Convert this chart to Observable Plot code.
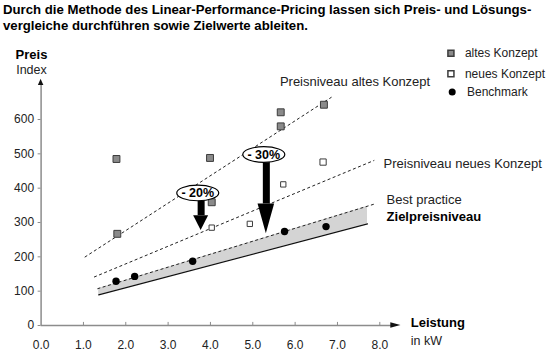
<!DOCTYPE html>
<html><head><meta charset="utf-8">
<script src="https://cdn.jsdelivr.net/npm/d3@7"></script>
<script src="https://cdn.jsdelivr.net/npm/@observablehq/plot@0.6"></script>
<style>
body{margin:0;background:#fff;font-family:Arial,"Liberation Sans",sans-serif;}
#title{font-weight:bold;font-size:13.2px;line-height:15.5px;padding:2px 0 0 3px;height:36px;box-sizing:border-box;color:#000;white-space:nowrap;}
#chart svg{display:block;}
</style></head><body>
<div id="title">Durch die Methode des Linear-Performance-Pricing lassen sich Preis- und Lösungs-<br>vergleiche durchführen sowie Zielwerte ableiten.</div>
<div id="chart"></div>
<script>
// ---- data ----
const xTicks = [0, 1, 2, 3, 4, 5, 6, 7, 8];
const yTicks = [0, 100, 200, 300, 400, 500, 600];
const altX = [1.78, 1.80, 3.99, 4.03, 5.66, 5.66, 6.68];
const altY = [485, 267, 488, 359, 621, 580, 643];
const neuX = [4.03, 4.93, 5.72, 6.66];
const neuY = [285, 296, 411, 476];
const neuBig = [false, false, false, true];
const benchX = [1.77, 2.21, 3.58, 5.75, 6.73];
const benchY = [129, 143, 187, 274, 288];
// price level lines (dashed)
const trendX0 = [1.03, 1.25, 1.33];
const trendY0 = [199, 141, 107];
const trendX1 = [6.86, 7.87, 7.88];
const trendY1 = [665, 481, 354];
// target price level (solid) and best practice band
const zielX = [1.36, 7.71];
const zielY = [89, 296];
const bandTop = [108, 347];
// reduction arrows
const cutLabels = ["- 20%", "- 30%"];
const cutX = [3.78, 5.32];
const cutFrom = [364, 476];
const cutHead = [320, 354];
const cutTo = [277, 267];
const cutLabelX = [3.70, 5.26];
const cutLabelY = [386, 498];
// annotation labels
const annText = ["Preisniveau altes Konzept", "Preisniveau neues Konzept", "Best practice"];
const annX = [5.64, 8.09, 8.16];
const annY = [709, 471, 366];
const boldText = ["Zielpreisniveau"];
const boldX = [8.16];
const boldY = [317];
// legend
const legText = ["altes Konzept", "neues Konzept", "Benchmark"];
const legY = [793, 733, 680];

// ---- build tables ----
const alt = altX.map((x, i) => ({x, y: altY[i]}));
const neu = neuX.map((x, i) => ({x, y: neuY[i], big: neuBig[i]}));
const bench = benchX.map((x, i) => ({x, y: benchY[i]}));
const trends = trendX0.map((x, i) => ({x1: x, y1: trendY0[i], x2: trendX1[i], y2: trendY1[i]}));
const band = zielX.map((x, i) => ({x, lo: zielY[i], hi: bandTop[i]}));
const ziel = zielX.map((x, i) => ({x, y: zielY[i]}));
const cuts = cutX.map((x, i) => ({x, from: cutFrom[i], head: cutHead[i], to: cutTo[i], label: cutLabels[i], lx: cutLabelX[i], ly: cutLabelY[i]}));
const headW = [0.177, 0.196];
const heads = cuts.flatMap((c, i) => [
  {k: i, y: c.head, x1: c.x - headW[i], x2: c.x + headW[i]},
  {k: i, y: c.to, x1: c.x, x2: c.x}
]);
const ann = annText.map((t, i) => ({t, x: annX[i], y: annY[i]}));
const annB = boldText.map((t, i) => ({t, x: boldX[i], y: boldY[i]}));
const leg = legText.map((t, i) => ({t, y: legY[i], i}));

const ellipse = {
  draw(ctx) {
    const rx = 21, ry = 7.8, k = 0.5523;
    ctx.moveTo(rx, 0);
    ctx.bezierCurveTo(rx, ry * k, rx * k, ry, 0, ry);
    ctx.bezierCurveTo(-rx * k, ry, -rx, ry * k, -rx, 0);
    ctx.bezierCurveTo(-rx, -ry * k, -rx * k, -ry, 0, -ry);
    ctx.bezierCurveTo(rx * k, -ry, rx, -ry * k, rx, 0);
    ctx.closePath();
  }
};

const axisColor = "#8c8c8c";
const txt = "#222";

const chart = Plot.plot({
  width: 549,
  height: 316,
  marginLeft: 40.6,
  marginRight: 169.7,
  marginTop: 83,
  marginBottom: 27,
  x: {domain: [0, 8], axis: null},
  y: {domain: [0, 600], axis: null},
  style: {fontFamily: "Arial, 'Liberation Sans', sans-serif", fontSize: "12px", background: "#fff", overflow: "visible"},
  marks: [
    // band and target line
    Plot.areaY(band, {x: "x", y1: "lo", y2: "hi", fill: "#d4d4d4"}),
    Plot.line(ziel, {x: "x", y: "y", stroke: "#111", strokeWidth: 1.2}),
    Plot.link(trends, {x1: "x1", y1: "y1", x2: "x2", y2: "y2", stroke: "#222", strokeWidth: 1, strokeDasharray: "3,2.5"}),
    // axes
    Plot.ruleY([0], {x1: 0, x2: 8.3, stroke: axisColor, strokeWidth: 1.5}),
    Plot.ruleX([0], {y1: 0, y2: 702, stroke: axisColor, strokeWidth: 1.5}),
    Plot.areaY([{x: 8.26, a: -8, b: 8}, {x: 8.5, a: 0, b: 0}], {x: "x", y1: "a", y2: "b", fill: "#111"}),
    Plot.areaX([{y: 699, a: -0.065, b: 0.065}, {y: 717, a: 0, b: 0}], {y: "y", x1: "a", x2: "b", fill: "#111"}),
    Plot.ruleX(xTicks.slice(1), {x: d => d, y1: 0, y2: 9, stroke: axisColor}),
    Plot.ruleY(yTicks, {y: d => d, x1: -0.07, x2: 0, stroke: axisColor}),
    Plot.text(xTicks, {x: d => d, y: 0, dy: 20, text: d => d.toFixed(1), fill: txt}),
    Plot.text(yTicks, {x: 0, y: d => d, dx: -7, textAnchor: "end", text: d => String(d), fill: txt}),
    // data points
    Plot.dot(alt, {x: "x", y: "y", symbol: "square", r: 3.9, fill: "#8a8a8a", stroke: "#3c3c3c", strokeWidth: 1}),
    Plot.dot(neu, {x: "x", y: "y", symbol: "square", r: d => d.big ? 5.1 : 3.7, fill: "#fff", stroke: "#3c3c3c", strokeWidth: 1}),
    Plot.dot(bench, {x: "x", y: "y", r: 3.7, fill: "#000"}),
    // reduction arrows
    Plot.ruleX(cuts, {x: "x", y1: "from", y2: "head", stroke: "#000", strokeWidth: 7}),
    Plot.areaX(heads, {y: "y", x1: "x1", x2: "x2", z: "k", fill: "#000"}),
    Plot.dot(cuts, {x: "lx", y: "ly", symbol: ellipse, fill: "#fff", stroke: "#000", strokeWidth: 1.2}),
    Plot.text(cuts, {x: "lx", y: "ly", text: "label", fontWeight: "bold", fontSize: 12.5, fill: "#000"}),
    // annotations
    Plot.text(ann, {x: "x", y: "y", text: "t", textAnchor: "start", fontSize: 13, fill: txt}),
    Plot.text(annB, {x: "x", y: "y", text: "t", textAnchor: "start", fontSize: 13, fontWeight: "bold", fill: "#000"}),
    // axis titles
    Plot.text(["Preis"], {x: -0.227, y: 789, text: d => d, fontWeight: "bold", fontSize: 13, fill: "#000"}),
    Plot.text(["Index"], {x: -0.227, y: 743, text: d => d, fontSize: 12.5, fill: txt}),
    Plot.text(["Leistung"], {x: 8.73, y: 6.7, text: d => d, textAnchor: "start", fontWeight: "bold", fontSize: 13, fill: "#000"}),
    Plot.text(["in kW"], {x: 8.73, y: -43.7, text: d => d, textAnchor: "start", fontSize: 12.5, fill: txt}),
    // legend
    Plot.dot(leg.filter(d => d.i === 0), {x: 9.68, y: "y", symbol: "square", r: 3.4, fill: "#8a8a8a", stroke: "#3c3c3c"}),
    Plot.dot(leg.filter(d => d.i === 1), {x: 9.68, y: "y", symbol: "square", r: 3.4, fill: "#fff", stroke: "#3c3c3c"}),
    Plot.dot(leg.filter(d => d.i === 2), {x: 9.71, y: "y", r: 3.5, fill: "#000"}),
    Plot.text(leg, {x: d => d.i === 2 ? 10.06 : 10.01, y: "y", text: "t", textAnchor: "start", fill: txt})
  ]
});
document.getElementById("chart").appendChild(chart);
</script>
</body></html>
